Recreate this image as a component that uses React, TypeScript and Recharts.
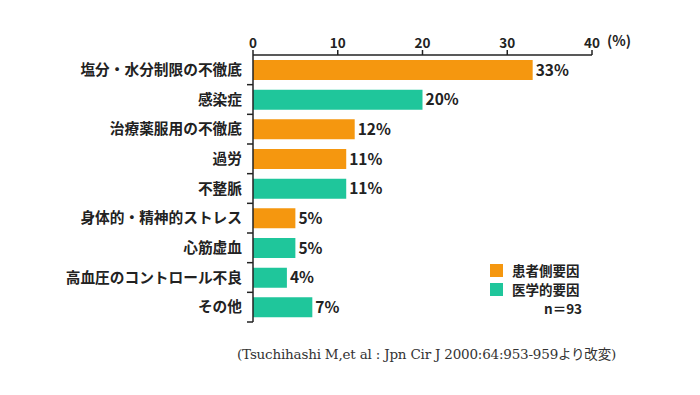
import { Bar, BarChart, Cell, LabelList, Legend, XAxis, YAxis } from "recharts";

const categories = [
  "塩分・水分制限の不徹底",
  "感染症",
  "治療薬服用の不徹底",
  "過労",
  "不整脈",
  "身体的・精神的ストレス",
  "心筋虚血",
  "高血圧のコントロール不良",
  "その他",
];
const percents = [33, 20, 12, 11, 11, 5, 5, 4, 7];
// 0 = 患者側要因, 1 = 医学的要因
const factorGroup = [0, 1, 0, 0, 1, 0, 1, 1, 1];
const groupNames = ["患者側要因", "医学的要因"];
const groupColors = ["#F5970F", "#1FC69B"];
const sampleNote = "n＝93";
const xTicks = [0, 10, 20, 30, 40];

const data = categories.map((name, i) => ({ name, value: percents[i], group: factorGroup[i] }));

const W = 684;
const H = 380;
const M = { top: 17, right: 100, bottom: 66, left: 0 };
const X_AXIS_H = 30;
const Y_AXIS_W = 245;
const TICK_MARGIN = 5;
const TICK_SIZE = 6;
const BAND = (H - M.top - M.bottom - X_AXIS_H) / categories.length;

const FONT = '"Noto Sans CJK JP", "Noto Sans", sans-serif';
const INK = "#222";

function CategoryTick(props: any) {
  const { x, y, payload } = props;
  const axisX = x + TICK_SIZE + TICK_MARGIN;
  const yb = y + BAND / 2;
  return (
    <g>
      <text x={x} y={y} dy={5} textAnchor="end" fontSize={14.7} fontWeight="bold" fill={INK} fontFamily={FONT}>
        {payload.value}
      </text>
      <line x1={axisX - TICK_SIZE} x2={axisX} y1={yb} y2={yb} stroke={INK} strokeWidth={1.5} />
    </g>
  );
}

function FactorLegend() {
  return (
    <div style={{ fontFamily: FONT, fontSize: 13.5, fontWeight: "bold", color: INK, lineHeight: "19px" }}>
      {groupNames.map((g, i) => (
        <div key={g} style={{ display: "flex", alignItems: "center" }}>
          <span style={{ width: 13, height: 13, background: groupColors[i], display: "inline-block", marginRight: 9 }} />
          {g}
        </div>
      ))}
      <div style={{ paddingLeft: 54 }}>{sampleNote}</div>
    </div>
  );
}

export default function App() {
  return (
    <div style={{ position: "relative", width: W, height: H }}>
      <BarChart width={W} height={H} data={data} layout="vertical" margin={M} barSize={20}>
        <XAxis
          type="number"
          orientation="top"
          domain={[0, 40]}
          ticks={xTicks}
          height={X_AXIS_H}
          stroke={INK}
          strokeWidth={1.5}
          tickSize={5}
          tick={{ fontSize: 13.5, fill: INK, fontFamily: FONT, fontWeight: "bold" }}
        />
        <YAxis
          type="category"
          dataKey="name"
          width={Y_AXIS_W}
          stroke={INK}
          strokeWidth={1.5}
          tickLine={false}
          tickSize={TICK_SIZE}
          tickMargin={TICK_MARGIN}
          tick={<CategoryTick />}
          interval={0}
        />
        <Legend
          layout="vertical"
          align="center"
          verticalAlign="middle"
          content={<FactorLegend />}
          wrapperStyle={{ left: 482, top: 253, width: 120 }}
        />
        <Bar dataKey="value" isAnimationActive={false}>
          {data.map((d, i) => (
            <Cell key={i} fill={groupColors[d.group]} />
          ))}
          <LabelList
            dataKey="value"
            position="right"
            offset={3}
            formatter={(v: any) => `${v}%`}
            style={{ fontSize: 15.5, fill: INK, fontFamily: FONT, fontWeight: "bold" }}
          />
        </Bar>
      </BarChart>
      <div style={{ position: "absolute", left: 599, top: 22, fontSize: 14, fontFamily: FONT, color: INK, fontWeight: "bold" }}>
        (%)
      </div>
      <div
        style={{
          position: "absolute",
          left: 229,
          top: 335,
          fontSize: 13.5,
          fontFamily: '"DejaVu Serif", "Noto Sans CJK JP", serif',
          color: "#333",
          whiteSpace: "nowrap",
          letterSpacing: -0.2,
        }}
      >
        (Tsuchihashi M,et al : Jpn Cir J 2000:64:953-959より改変)
      </div>
    </div>
  );
}
